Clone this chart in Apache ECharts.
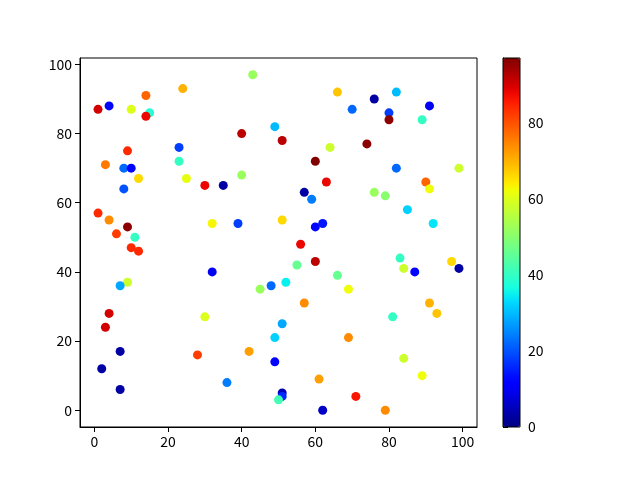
<!DOCTYPE html>
<html>
<head>
<meta charset="utf-8">
<script src="https://cdn.jsdelivr.net/npm/echarts@6/dist/echarts.min.js"></script>
<style>
  html, body { margin: 0; padding: 0; background: #fff; }
  #main { width: 640px; height: 480px; }
</style>
</head>
<body>
<div id="main"></div>
<script>
// Point positions and colour values
const xs = [1, 4, 10, 14, 15, 14, 24, 9, 23, 3, 8, 10, 23, 12, 25, 30, 35, 8, 1, 4,
            9, 11, 32, 6, 10, 12, 32, 9, 7, 4, 3, 30, 7, 2, 28, 7, 43, 66, 70, 40,
            49, 51, 64, 60, 40, 63, 57, 59, 39, 51, 60, 62, 56, 60, 55, 66, 45, 48, 52, 69,
            57, 51, 49, 69, 42, 49, 36, 61, 51, 51, 50, 62, 82, 76, 80, 80, 91, 89, 74, 82,
            99, 90, 91, 76, 79, 85, 92, 83, 84, 87, 97, 99, 91, 93, 81, 84, 89, 71, 79];
const ys = [87, 88, 87, 91, 86, 85, 93, 75, 76, 71, 70, 70, 72, 67, 67, 65, 65, 64, 57, 55,
            53, 50, 54, 51, 47, 46, 40, 37, 36, 28, 24, 27, 17, 12, 16, 6, 97, 92, 87, 80,
            82, 78, 76, 72, 68, 66, 63, 61, 54, 55, 53, 54, 48, 43, 42, 39, 35, 36, 37, 35,
            31, 25, 21, 21, 17, 14, 8, 9, 5, 4, 3, 0, 92, 90, 86, 84, 88, 84, 77, 70,
            70, 66, 64, 63, 62, 58, 54, 44, 41, 40, 43, 41, 31, 28, 27, 15, 10, 4, 0];
const cs = [90, 12, 60, 78, 38, 88, 70, 84, 18, 76, 22, 12, 40, 66, 61, 88, 3, 20, 84, 74,
            96, 40, 63, 82, 84, 84, 10, 58, 28, 90, 90, 60, 3, 3, 82, 3, 52, 68, 22, 92,
            30, 92, 58, 97, 52, 88, 3, 24, 18, 66, 12, 14, 88, 92, 46, 46, 52, 22, 35, 62,
            74, 28, 32, 74, 72, 12, 24, 72, 5, 16, 42, 6, 30, 3, 18, 96, 10, 40, 96, 22,
            58, 78, 62, 52, 50, 32, 34, 40, 58, 12, 66, 3, 70, 68, 40, 58, 62, 86, 74];
const axisTicks = [0, 20, 40, 60, 80, 100];
const barTicks = [0, 20, 40, 60, 80];

// matplotlib 'jet' colormap
function seg(pts, t) {
  for (let i = 1; i < pts.length; i++) {
    if (t <= pts[i][0]) {
      let a = pts[i - 1], b = pts[i];
      return a[1] + (b[1] - a[1]) * (t - a[0]) / (b[0] - a[0]);
    }
  }
  return pts[pts.length - 1][1];
}
function jet(t) {
  let r = seg([[0, 0], [0.35, 0], [0.66, 1], [0.89, 1], [1, 0.5]], t);
  let g = seg([[0, 0], [0.125, 0], [0.375, 1], [0.64, 1], [0.91, 0], [1, 0]], t);
  let b = seg([[0, 0.5], [0.11, 1], [0.34, 1], [0.65, 0], [1, 0]], t);
  return 'rgb(' + Math.round(r * 255) + ',' + Math.round(g * 255) + ',' + Math.round(b * 255) + ')';
}
let jetColors = [];
for (let i = 0; i <= 50; i++) jetColors.push(jet(i / 50));

let points = xs.map((x, i) => [x, ys[i], cs[i]]);

// 5% margins like matplotlib autoscale
let xMin = Math.min(...xs), xMax = Math.max(...xs);
let yMin = Math.min(...ys), yMax = Math.max(...ys);
let cMin = 0, cMax = Math.max(...cs);
let xPad = (xMax - xMin) * 0.05, yPad = (yMax - yMin) * 0.05;

const font = '"Noto Sans CJK SC", "DejaVu Sans", sans-serif';
const labelStyle = { color: '#000', fontSize: 14, fontFamily: font };

let myChart = echarts.init(document.getElementById('main'));

let option = {
  animation: false,
  backgroundColor: '#fff',
  grid: [
    { left: 80, right: 163, top: 58, bottom: 53, show: true, borderColor: '#000', borderWidth: 1, backgroundColor: 'transparent' },
    { left: 503, width: 17, top: 58, bottom: 53, show: true, borderColor: '#000', borderWidth: 1, backgroundColor: 'transparent', z: 10 }
  ],
  xAxis: [
    {
      gridIndex: 0, type: 'value', min: xMin - xPad, max: xMax + xPad,
      splitLine: { show: false },
      axisLine: { show: true, onZero: false, lineStyle: { color: '#000' } },
      axisTick: { show: true, length: 5, customValues: axisTicks, lineStyle: { color: '#000' } },
      axisLabel: Object.assign({ margin: 8, customValues: axisTicks }, labelStyle)
    },
    { gridIndex: 1, type: 'value', min: 0, max: 1, show: false }
  ],
  yAxis: [
    {
      gridIndex: 0, type: 'value', min: yMin - yPad, max: yMax + yPad,
      splitLine: { show: false },
      axisLine: { show: true, onZero: false, lineStyle: { color: '#000' } },
      axisTick: { show: true, length: 5, customValues: axisTicks, lineStyle: { color: '#000' } },
      axisLabel: Object.assign({ margin: 8, customValues: axisTicks }, labelStyle)
    },
    {
      gridIndex: 1, type: 'value', min: cMin, max: cMax, position: 'right',
      splitLine: { show: false },
      axisLine: { show: true, lineStyle: { color: '#000' } },
      axisTick: { show: true, length: 5, customValues: barTicks, lineStyle: { color: '#000' } },
      axisLabel: Object.assign({ margin: 8, customValues: barTicks }, labelStyle)
    }
  ],
  visualMap: {
    type: 'continuous',
    seriesIndex: 0,
    dimension: 2,
    min: cMin,
    max: cMax,
    calculable: false,
    hoverLink: false,
    padding: 0,
    left: 503,
    top: 58,
    itemWidth: 17,
    itemHeight: 369,
    text: null,
    showLabel: false,
    inRange: { color: jetColors }
  },
  series: [
    {
      type: 'scatter',
      xAxisIndex: 0,
      yAxisIndex: 0,
      symbolSize: 9,
      itemStyle: { opacity: 1 },
      data: points
    },
    { type: 'scatter', xAxisIndex: 1, yAxisIndex: 1, data: [] }
  ]
};

option && myChart.setOption(option);
</script>
</body>
</html>
